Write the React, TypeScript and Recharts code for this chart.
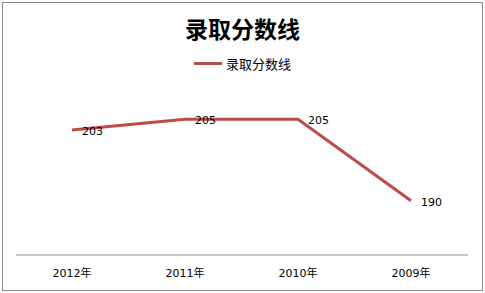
import { LineChart, Line, XAxis, YAxis, Legend, LabelList } from "recharts";

const years = ["2012年", "2011年", "2010年", "2009年"];
const scores = [203, 205, 205, 190];
const seriesName = "录取分数线";
const yDomain = [180, 210];

const data = years.map((year, i) => ({ year, score: scores[i] }));

const LINE_COLOR = "#BE4B48";

// value labels sit to the right of each point
function PointLabel(props: any) {
  const { x, y, value } = props;
  return (
    <text
      x={x + 10}
      y={y + 5}
      fontSize={11}
      fontFamily="'DejaVu Sans', sans-serif"
      fill="#000"
      textAnchor="start"
    >
      {value}
    </text>
  );
}

function LegendContent() {
  return (
    <div
      style={{
        display: "flex",
        alignItems: "center",
        justifyContent: "center",
        height: 20,
      }}
    >
      <span
        style={{
          display: "inline-block",
          width: 28,
          height: 3,
          background: LINE_COLOR,
          marginRight: 4,
        }}
      />
      <span
        style={{
          fontFamily: "'Noto Sans CJK SC', sans-serif",
          fontSize: 13,
          color: "#000",
        }}
      >
        {seriesName}
      </span>
    </div>
  );
}

export default function App() {
  return (
    <div
      style={{
        position: "absolute",
        left: 0,
        top: 0,
        width: 485,
        height: 293,
        background: "#fff",
      }}
    >
      <div
        style={{
          position: "absolute",
          left: 2,
          top: 2,
          width: 479,
          height: 287,
          border: "1px solid #8c8c8c",
        }}
      />
      <div
        style={{
          position: "absolute",
          left: 0,
          top: 11,
          width: 485,
          textAlign: "center",
          fontFamily: "'Noto Sans CJK SC', sans-serif",
          fontWeight: 700,
          fontSize: 23,
          color: "#000",
        }}
      >
        {seriesName}
      </div>
      <div style={{ position: "absolute", left: 0, top: 0 }}>
        <LineChart
          width={485}
          height={293}
          data={data}
          margin={{ top: 72, right: 17, left: 16, bottom: 0 }}
        >
          <XAxis
            dataKey="year"
            height={38}
            padding={{ left: 56, right: 57 }}
            axisLine={{ stroke: "#8c8c8c" }}
            tickLine={false}
            tick={{
              fontSize: 11,
              fill: "#000",
              fontFamily: "'DejaVu Sans', 'Noto Sans CJK SC', sans-serif",
            }}
            tickMargin={8}
          />
          <YAxis hide domain={yDomain} />
          <Legend
            verticalAlign="top"
            content={<LegendContent />}
            wrapperStyle={{ top: 53, left: 0, width: 485 }}
          />
          <Line
            type="linear"
            dataKey="score"
            name={seriesName}
            stroke={LINE_COLOR}
            strokeWidth={3}
            dot={false}
            isAnimationActive={false}
          >
            <LabelList dataKey="score" content={<PointLabel />} />
          </Line>
        </LineChart>
      </div>
    </div>
  );
}
